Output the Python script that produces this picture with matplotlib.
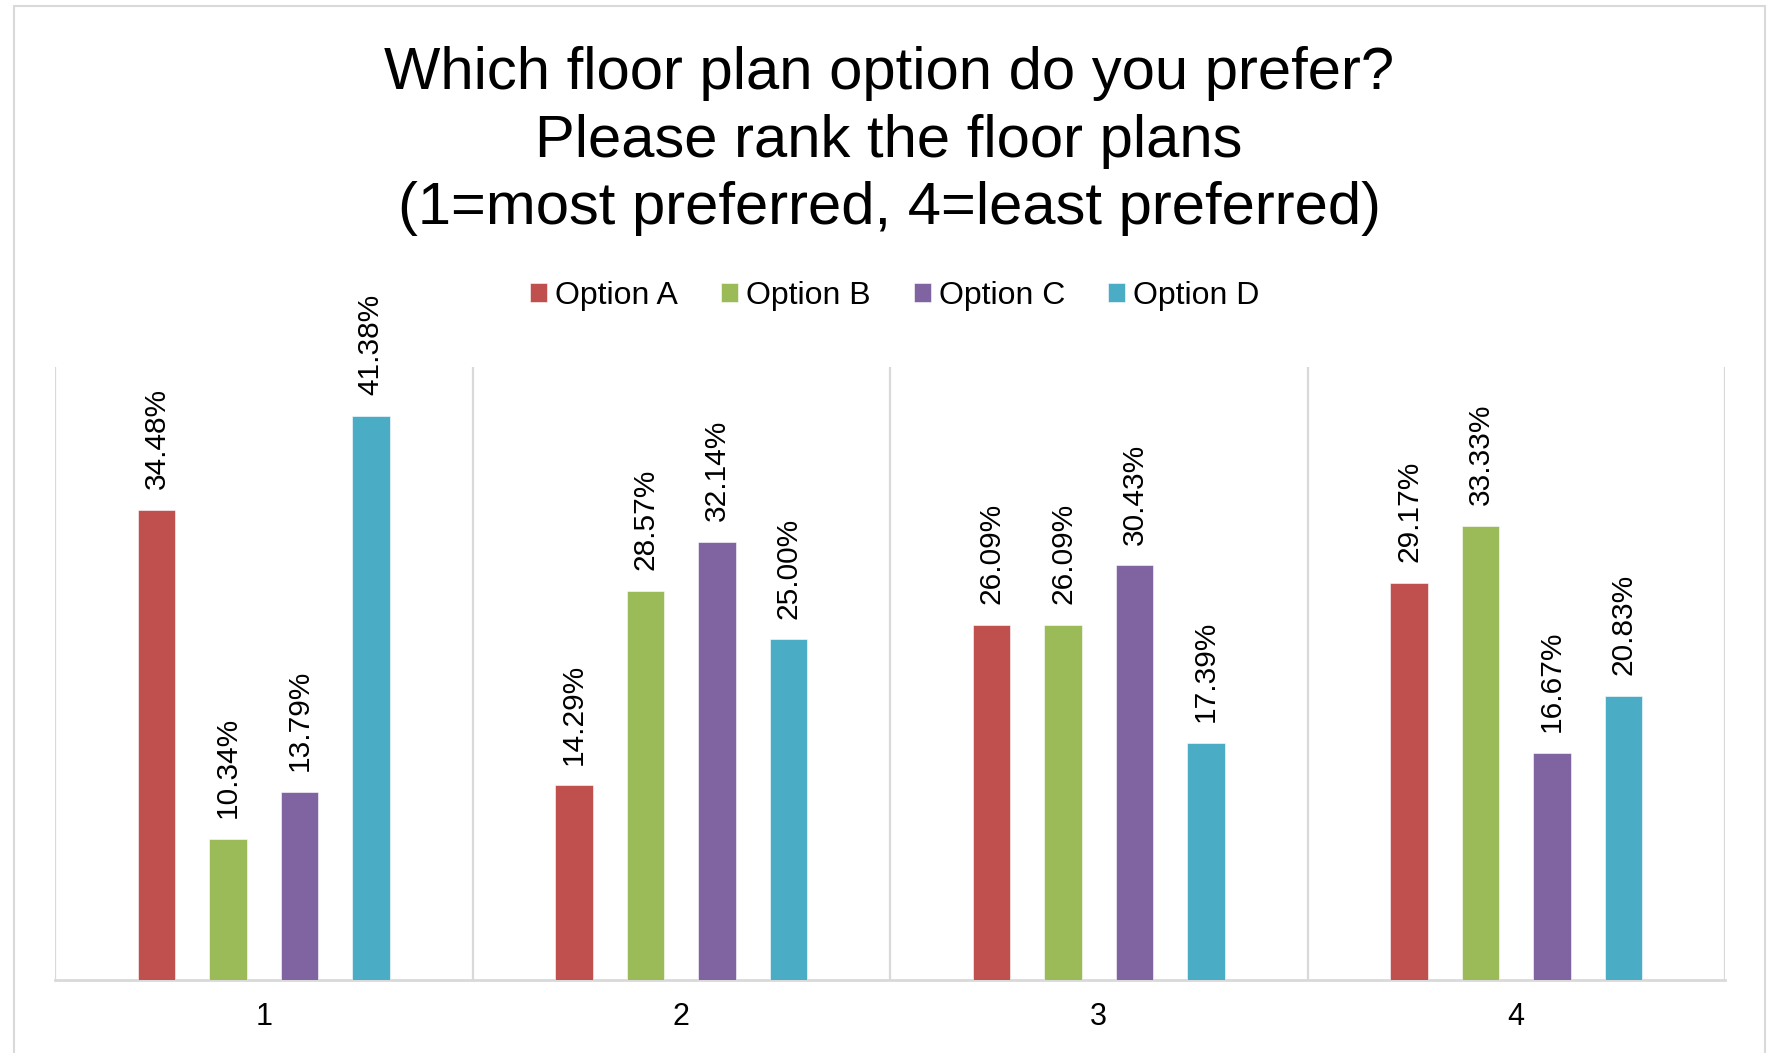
## ========================================================
## Filename     : plot.py
## Description  : floor plan preference survey - grouped bar chart
## ========================================================
import matplotlib
matplotlib.use("Agg")
import matplotlib.pyplot as plt
from matplotlib.patches import Rectangle

## ========================================================
## data
## ========================================================
ranks   = ["1", "2", "3", "4"]
options = ["Option A", "Option B", "Option C", "Option D"]

option_a = [34.48, 14.29, 26.09, 29.17]
option_b = [10.34, 28.57, 26.09, 33.33]
option_c = [13.79, 32.14, 30.43, 16.67]
option_d = [41.38, 25.00, 17.39, 20.83]

colors = ["#C0504D", "#9BBB59", "#8064A2", "#4BACC6"]
grid_color = "#D9D9D9"

title_lines = ["Which floor plan option do you prefer?",
               "Please rank the floor plans",
               "(1=most preferred, 4=least preferred)"]

plt.rcParams["font.family"] = ["Liberation Sans", "DejaVu Sans"]

## ========================================================
## figure / axes
## ========================================================
W, H = 1772, 1053
fig = plt.figure(figsize=(W / 100, H / 100), dpi=100)
ax = fig.add_axes([55 / W, 1 - 980 / H, (1725 - 55) / W, (980 - 367) / H])

series = [option_a, option_b, option_c, option_d]
x = list(range(1, len(ranks) + 1))
bar_w = 0.09
step = 0.171

for i, (name, vals) in enumerate(zip(options, series)):
    off = (i - 1.5) * step
    xs = [xi + off for xi in x]
    bars = ax.bar(xs, vals, width=bar_w, color=colors[i], label=name,
                  edgecolor="white", linewidth=0.4, zorder=3)
    ## 값 라벨 (세로)
    for b, v in zip(bars, vals):
        ax.annotate(f"{v:.2f}%", (b.get_x() + b.get_width() / 2, v),
                    xytext=(0, 15), textcoords="offset points",
                    ha="center", va="bottom", rotation=90, fontsize=21.5)

ax.set_xlim(0.5, len(ranks) + 0.5)
ax.set_ylim(0, 45)
ax.set_xticks(x)
ax.set_xticklabels(ranks, fontsize=22)
ax.set_yticks([])
ax.tick_params(axis="x", length=0, pad=15.5)

## category separators
ax.set_xticks([r + 0.5 for r in range(0, len(ranks) + 1)], minor=True)
ax.tick_params(axis="x", which="minor", length=0)
ax.grid(which="minor", axis="x", color=grid_color, linewidth=1.6, zorder=0)

for s in ["top", "left", "right"]:
    ax.spines[s].set_visible(False)
ax.spines["bottom"].set_color(grid_color)
ax.spines["bottom"].set_linewidth(2)

## ========================================================
## title (three lines)
## ========================================================
for line, y in zip(title_lines, [89, 157, 224]):
    fig.text(889 / W, 1 - y / H, line, ha="center", va="baseline", fontsize=43)

## legend
fig.legend(*ax.get_legend_handles_labels(), loc="center",
           bbox_to_anchor=(895 / W, 1 - 296 / H), ncol=4, frameon=False,
           fontsize=23, handlelength=0.53, handleheight=0.53,
           handletextpad=0.25, columnspacing=1.35, borderaxespad=0)

## outer chart border
fig.add_artist(Rectangle((14 / W, -0.05), (1765 - 14) / W, 1.05 - 6 / H,
                         transform=fig.transFigure, fill=False,
                         edgecolor=grid_color, linewidth=1.5))

fig.savefig("out.png", dpi=100)
